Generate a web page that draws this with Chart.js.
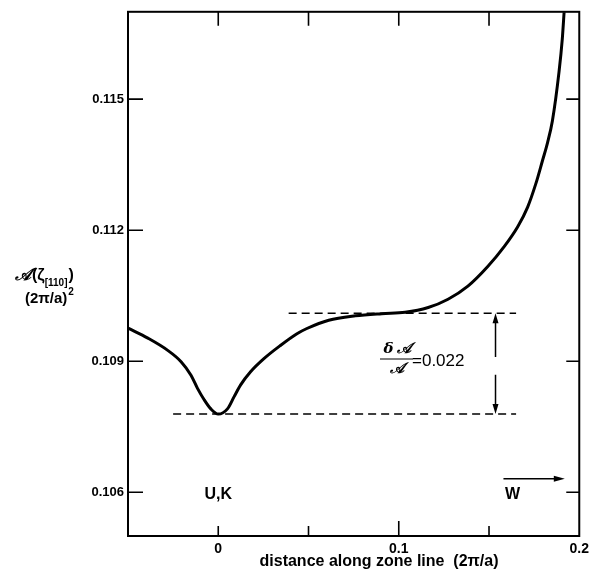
<!DOCTYPE html>
<html>
<head>
<meta charset="utf-8">
<script src="https://cdn.jsdelivr.net/npm/chart.js@4.4.0/dist/chart.umd.min.js"></script>
<style>
html,body{margin:0;padding:0;background:#fff;}
#wrap{width:594px;height:574px;position:relative;}
</style>
</head>
<body>
<div id="wrap"><canvas id="c" width="594" height="574"></canvas></div>
<script>
// ---- data ----
const xDistance = [-0.05,-0.0390,-0.0280,-0.0206,-0.0151,-0.0115,-0.0078,-0.0041,0.0,0.0051,0.0088,0.0124,0.0179,0.0253,0.0344,0.0436,0.0491,0.0612,0.0759,0.0906,0.1035,0.1163,0.1273,0.1383,0.1493,0.1585,0.1659,0.1714,0.1759,0.1796,0.1824,0.1851,0.1888,0.1906,0.1916];
const areaValues = [0.10976,0.10953,0.10925,0.10899,0.10868,0.10838,0.10812,0.10791,0.10779,0.10791,0.10819,0.10846,0.10876,0.10906,0.10936,0.10963,0.10975,0.10994,0.11004,0.11009,0.11012,0.11023,0.11042,0.11072,0.11117,0.11163,0.11208,0.11253,0.11306,0.11359,0.11400,0.11450,0.11563,0.11638,0.11699];
const xTickValues = [-0.05,0,0.05,0.1,0.15,0.2];
const xTickLabels = {"0":"0","0.1":"0.1","0.2":"0.2"};
const yTickValues = [0.106,0.109,0.112,0.115];
const yTickLabels = ["0.106","0.109","0.112","0.115"];
const minLevel = 0.10779;       // lower dashed line
const plateauLevel = 0.1101;    // upper dashed line
const lowerDashX = [-0.025,0.165];
const upperDashX = [0.039,0.165];
const deltaArrowX = 0.1536;
const deltaArrowGap = [0.10869,0.1091];
const wArrowX = [0.158,0.192];
const wArrowY = 0.10631;
const labelUK = {x:0.0, y:0.10595, text:"U,K"};
const labelW = {x:0.163, y:0.10595, text:"W"};
const xTitle = "distance along zone line  (2\u03c0/a)";

const FONT = '"Liberation Sans", Arial, sans-serif';

const decor = {
  id:'decor',
  afterDraw(chart){
    const ctx = chart.ctx, a = chart.chartArea;
    const xs = chart.scales.x, ys = chart.scales.y;
    ctx.save();
    ctx.strokeStyle = '#000'; ctx.fillStyle = '#000';
    // frame
    ctx.lineWidth = 2;
    ctx.strokeRect(a.left, a.top, a.right - a.left, a.bottom - a.top);
    // inward tick marks
    ctx.lineWidth = 1.6;
    ctx.beginPath();
    xTickValues.forEach(v=>{
      if (v <= -0.05 || v >= 0.2) return;
      const px = xs.getPixelForValue(v);
      ctx.moveTo(px, a.bottom); ctx.lineTo(px, a.bottom - (Math.abs(v-0.1)<1e-9 ? 15 : 10));
      ctx.moveTo(px, a.top); ctx.lineTo(px, a.top + 14);
    });
    yTickValues.forEach(v=>{
      const py = ys.getPixelForValue(v);
      ctx.moveTo(a.left, py); ctx.lineTo(a.left + 15, py);
      ctx.moveTo(a.right, py); ctx.lineTo(a.right - 13, py);
    });
    ctx.stroke();

    // delta arrow
    const ax = xs.getPixelForValue(deltaArrowX);
    const yTop = ys.getPixelForValue(plateauLevel), yBot = ys.getPixelForValue(minLevel);
    const g1 = ys.getPixelForValue(deltaArrowGap[1]), g0 = ys.getPixelForValue(deltaArrowGap[0]);
    ctx.lineWidth = 1.5;
    ctx.beginPath();
    ctx.moveTo(ax, yTop + 6); ctx.lineTo(ax, g1);
    ctx.moveTo(ax, g0); ctx.lineTo(ax, yBot - 6);
    ctx.stroke();
    ctx.beginPath();
    ctx.moveTo(ax, yTop); ctx.lineTo(ax-3, yTop+10); ctx.lineTo(ax+3, yTop+10); ctx.closePath();
    ctx.moveTo(ax, yBot); ctx.lineTo(ax-3, yBot-10); ctx.lineTo(ax+3, yBot-10); ctx.closePath();
    ctx.fill();

    // W arrow
    const wx0 = xs.getPixelForValue(wArrowX[0]), wx1 = xs.getPixelForValue(wArrowX[1]);
    const wy = ys.getPixelForValue(wArrowY);
    ctx.beginPath(); ctx.moveTo(wx0, wy); ctx.lineTo(wx1 - 6, wy); ctx.stroke();
    ctx.beginPath(); ctx.moveTo(wx1, wy); ctx.lineTo(wx1-11, wy-3); ctx.lineTo(wx1-11, wy+3); ctx.closePath(); ctx.fill();

    // labels
    ctx.textAlign = 'center'; ctx.textBaseline = 'middle';
    ctx.font = 'bold 16px ' + FONT;
    ctx.fillText(labelUK.text, xs.getPixelForValue(labelUK.x), ys.getPixelForValue(labelUK.y));
    ctx.fillText(labelW.text, xs.getPixelForValue(labelW.x), ys.getPixelForValue(labelW.y));

    // fraction delta A / A = 0.022
    const fx = 397, fy = 359;
    ctx.font = 'bold italic 15px "DejaVu Serif", serif';
    ctx.fillText('\u03b4\u2009\ud835\udc9c', fx, fy - 10);
    ctx.fillText('\ud835\udc9c', fx, fy + 10);
    ctx.lineWidth = 1.2;
    ctx.beginPath(); ctx.moveTo(fx-17, fy); ctx.lineTo(fx+16, fy); ctx.stroke();
    ctx.textAlign = 'left';
    ctx.font = '17px ' + FONT;
    ctx.fillText('=0.022', fx + 15, fy + 2);

    // y axis title
    ctx.textAlign = 'left';
    ctx.font = 'bold italic 17px "DejaVu Serif", serif';
    let tx = 15;
    ctx.fillText('\ud835\udc9c', tx, 276);
    tx += ctx.measureText('\ud835\udc9c').width + 1;
    ctx.font = 'bold 16px ' + FONT;
    ctx.fillText('(\u03b6', tx, 276);
    tx += ctx.measureText('(\u03b6').width;
    ctx.font = 'bold 10px ' + FONT;
    ctx.fillText('[110]', tx, 283);
    tx += ctx.measureText('[110]').width + 1;
    ctx.font = 'bold 16px ' + FONT;
    ctx.fillText(')', tx, 276);
    ctx.font = 'bold 15px ' + FONT;
    ctx.fillText('(2\u03c0/a)', 25, 299);
    const w2 = ctx.measureText('(2\u03c0/a)').width;
    ctx.font = 'bold 10px ' + FONT;
    ctx.fillText('2', 25 + w2 + 1, 292);

    // x axis title
    ctx.textAlign = 'center';
    ctx.font = 'bold 16px ' + FONT;
    ctx.fillText(xTitle, 379, 562);
    ctx.restore();
  }
};

new Chart(document.getElementById('c'), {
  type:'line',
  data:{
    datasets:[
      {data: xDistance.map((x,i)=>({x, y: areaValues[i]})), borderColor:'#000', borderWidth:3,
       pointRadius:0, cubicInterpolationMode:'monotone', fill:false},
      {data: lowerDashX.map(x=>({x, y:minLevel})), borderColor:'#000', borderWidth:1.5,
       borderDash:[8,5], pointRadius:0, fill:false},
      {data: upperDashX.map(x=>({x, y:plateauLevel})), borderColor:'#000', borderWidth:1.5,
       borderDash:[8,5], pointRadius:0, fill:false}
    ]
  },
  options:{
    responsive:false, animation:false, devicePixelRatio:1,
    layout:{padding:{left:0,right:12,top:6,bottom:0}},
    plugins:{legend:{display:false}, tooltip:{enabled:false}},
    scales:{
      x:{type:'linear', min:-0.05, max:0.2,
         afterBuildTicks: s => { s.ticks = xTickValues.map(v=>({value:v})); },
         afterFit: s => { s.height = 38; },
         grid:{display:false, drawTicks:false}, border:{display:false},
         ticks:{padding:5, color:'#000', maxRotation:0, autoSkip:false,
                font:{family:FONT, size:14, weight:'bold'},
                callback: v => { const k = String(Math.round(v*100)/100); return xTickLabels[k] !== undefined ? xTickLabels[k] : ''; }}},
      y:{type:'linear', min:0.105, max:0.117,
         afterBuildTicks: s => { s.ticks = yTickValues.map(v=>({value:v})); },
         afterFit: s => { s.width = 128; },
         grid:{display:false, drawTicks:false}, border:{display:false},
         ticks:{padding:4, color:'#000', autoSkip:false,
                font:{family:FONT, size:13, weight:'bold'},
                callback: v => { const i = yTickValues.findIndex(t=>Math.abs(t-v)<1e-9); return i>=0 ? yTickLabels[i] : ''; }}}
    }
  },
  plugins:[decor]
});
</script>
</body>
</html>
